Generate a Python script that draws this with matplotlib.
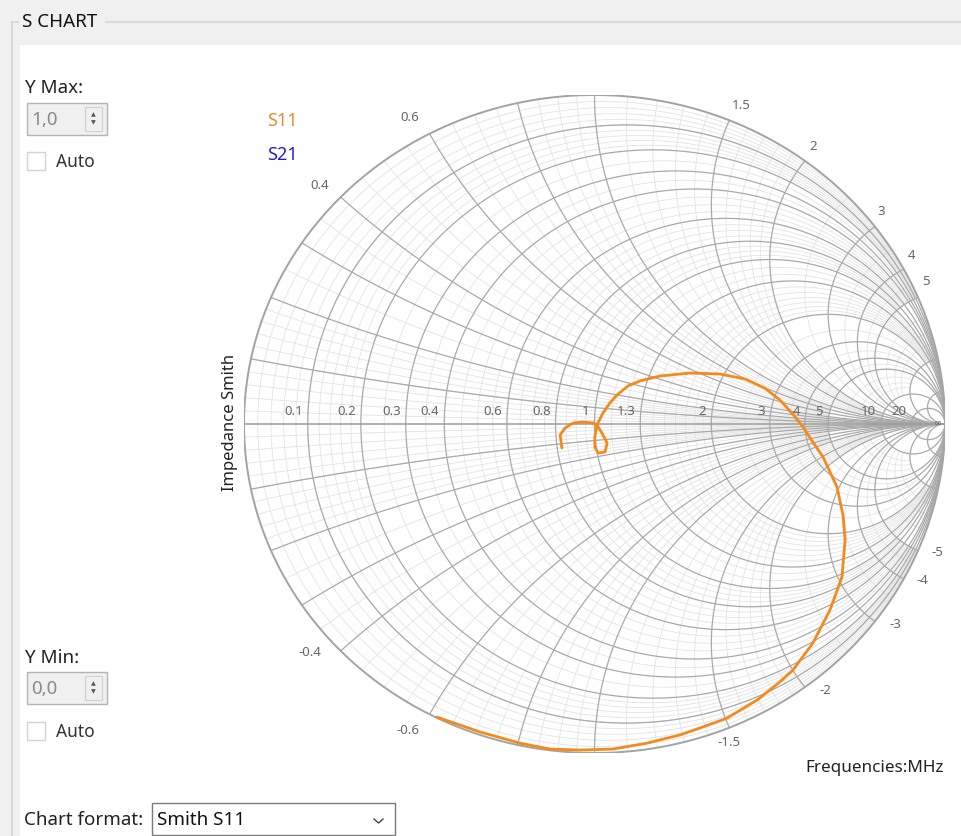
import matplotlib
matplotlib.use("Agg")
import matplotlib.pyplot as plt
import matplotlib.patches as mpatches
from matplotlib.lines import Line2D
import numpy as np

plt.rcParams['font.family'] = ['Noto Sans', 'DejaVu Sans']

W, H = 961, 836

# S11 reflection coefficient trace (real, imag)
s11_re = [-0.093, -0.098, -0.084, -0.061, -0.033, -0.004, 0.007, 0.021, 0.036, 0.030,
          0.010, 0.001, 0.001, 0.007, 0.024, 0.044, 0.064, 0.096, 0.130, 0.187,
          0.273, 0.358, 0.429, 0.486, 0.529, 0.566, 0.595, 0.623, 0.652, 0.692,
          0.709, 0.715, 0.706, 0.672, 0.623, 0.566, 0.529, 0.464, 0.378, 0.301,
          0.244, 0.150, 0.053, -0.041, -0.127, -0.213, -0.327, -0.449]
s11_im = [-0.073, -0.033, -0.012, 0.003, 0.006, 0.003, -0.003, -0.027, -0.058, -0.085,
          -0.088, -0.070, -0.040, -0.003, 0.033, 0.064, 0.088, 0.116, 0.131, 0.146,
          0.155, 0.152, 0.137, 0.109, 0.073, 0.030, -0.009, -0.055, -0.100, -0.192,
          -0.277, -0.353, -0.465, -0.565, -0.666, -0.748, -0.784, -0.839, -0.894, -0.924,
          -0.945, -0.970, -0.988, -0.991, -0.988, -0.970, -0.936, -0.891]

# grid values
major_r = [0.1, 0.2, 0.3, 0.4, 0.6, 0.8, 1, 1.3, 2, 3, 4, 5, 10, 20]
major_x = [0.1, 0.2, 0.3, 0.4, 0.6, 0.8, 1, 1.5, 2, 3, 4, 5, 10, 20]
r_labels = ['0.1', '0.2', '0.3', '0.4', '0.6', '0.8', '1', '1.3', '2', '3', '4', '5', '10', '20']
x_label_vals = [0.4, 0.6, 1.5, 2, 3, 4, 5, -0.4, -0.6, -1.5, -2, -3, -4, -5]
x_labels = ['0.4', '0.6', '1.5', '2', '3', '4', '5', '-0.4', '-0.6', '-1.5', '-2', '-3', '-4', '-5']
# label offsets in pixels (dx, dy), dy upward
x_label_off = [(-21, 12), (-20, 16), (12, 15), (8, 14), (6, 15), (8, 14), (8, 16),
               (-31, -2), (-22, -16), (0, -15), (21, -3), (21, -3), (19, -2), (19, -2)]

minor_r = ([round(v, 2) for v in np.arange(0.02, 0.2, 0.02)] +
           [round(v, 2) for v in np.arange(0.25, 1.0, 0.05) if round(v, 2) not in (0.3, 0.4, 0.6, 0.8)] +
           [1.1, 1.2, 1.4, 1.5, 1.6, 1.7, 1.8, 1.9, 2.5, 3.5, 4.5, 6, 7, 8])
minor_x = ([round(v, 2) for v in np.arange(0.02, 0.2, 0.02)] +
           [round(v, 2) for v in np.arange(0.25, 1.0, 0.05) if round(v, 2) not in (0.3, 0.4, 0.6, 0.8)] +
           [1.1, 1.2, 1.3, 1.4, 1.6, 1.7, 1.8, 1.9, 2.5, 3.5, 4.5, 6, 7, 8])


def gamma(z):
    return (z - 1) / (z + 1)


def r_curve(r, xmax):
    x = np.sinh(np.linspace(-np.arcsinh(xmax), np.arcsinh(xmax), 900))
    g = gamma(r + 1j * x)
    return g.real, g.imag


def x_curve(x, rmax):
    r = np.sinh(np.linspace(0, np.arcsinh(rmax), 900))
    g = gamma(r + 1j * x)
    return g.real, g.imag


def fx(px):
    return px / W


def fy(py):
    return 1 - py / H


fig = plt.figure(figsize=(W / 100, H / 100), dpi=100, facecolor='#f0f0f0')

# panel background and group box
fig.patches.append(mpatches.Rectangle((fx(20), 0), 1, fy(45), transform=fig.transFigure,
                                      facecolor='white', edgecolor='none', zorder=-5))
fig.add_artist(Line2D([fx(12), fx(12)], [fy(22), 0], color='#d5d5d5', lw=1.2))
fig.add_artist(Line2D([fx(12), fx(18)], [fy(22), fy(22)], color='#d5d5d5', lw=1.2))
fig.add_artist(Line2D([fx(106), 1], [fy(22), fy(22)], color='#d5d5d5', lw=1.2))
fig.text(fx(22), fy(22), 'S CHART', fontsize=13.5, va='center', ha='left', color='#111111')

UI = 13.5


def spin_box(top, value):
    fig.patches.append(mpatches.Rectangle((fx(27), fy(top + 32)), fx(80), 32 / H,
                                          transform=fig.transFigure, facecolor='#f0f0f0',
                                          edgecolor='#b4b4b4', lw=1))
    fig.patches.append(mpatches.Rectangle((fx(85), fy(top + 28)), fx(17), 24 / H,
                                          transform=fig.transFigure, facecolor='#f0f0f0',
                                          edgecolor='#d0d0d0', lw=0.8))
    fig.text(fx(31), fy(top + 17), value, fontsize=UI, va='center', color='#8a8a8a')
    fig.text(fx(93), fy(top + 12), '\u25b2', fontsize=4.5, ha='center', va='center', color='#555555')
    fig.text(fx(93), fy(top + 20), '\u25bc', fontsize=4.5, ha='center', va='center', color='#555555')


def check_box(top):
    fig.patches.append(mpatches.Rectangle((fx(27), fy(top + 18)), fx(18), 18 / H,
                                          transform=fig.transFigure, facecolor='white',
                                          edgecolor='#d4d4d4', lw=1))
    fig.text(fx(56), fy(top + 10), 'Auto', fontsize=12.5, va='center', color='#333333')


fig.text(fx(25), fy(88), 'Y Max:', fontsize=UI, va='center', color='#222222')
spin_box(103, '1,0')
check_box(152)
fig.text(fx(25), fy(658), 'Y Min:', fontsize=UI, va='center', color='#222222')
spin_box(672, '0,0')
check_box(722)

fig.text(fx(24), fy(820), 'Chart format:', fontsize=UI, va='center', color='#222222')
fig.patches.append(mpatches.Rectangle((fx(152), fy(835)), fx(243), 32 / H,
                                      transform=fig.transFigure, facecolor='white',
                                      edgecolor='#7a7a7a', lw=1))
fig.text(fx(157), fy(820), 'Smith S11', fontsize=UI, va='center', color='#111111')
fig.add_artist(Line2D([fx(374), fx(378.5), fx(383)], [fy(819), fy(823), fy(819)],
                      color='#444444', lw=1))

fig.text(fx(805), fy(768), 'Frequencies:MHz', fontsize=12.3, va='center', ha='left', color='#222222')
fig.text(fx(267), fy(121), 'S11', fontsize=13, va='center', color='#e8892a')
fig.text(fx(267), fy(155), 'S21', fontsize=13, va='center', color='#2020c8')
fig.text(fx(230), fy(422), 'Impedance Smith', fontsize=12, rotation=90, ha='center', va='center',
         color='#222222')

# Smith chart axes
ax = fig.add_axes([fx(244), fy(753), fx(701), 658 / H])
ax.set_zorder(5)
ax.set_xlim(-1.0, 1.0)
ax.set_ylim(-1.0, 1.0)
ax.axis('off')

minor_kw = dict(color='#e3e3e3', lw=0.6, zorder=1)
major_kw = dict(color='#a9a9a9', lw=0.9, zorder=2)

for r in minor_r:
    lim = 5 if r < 1 else 10
    ax.plot(*r_curve(r, lim), **minor_kw)
for x in minor_x:
    lim = 5 if x < 1 else 10
    ax.plot(*x_curve(x, lim), **minor_kw)
    ax.plot(*x_curve(-x, lim), **minor_kw)

for r in major_r:
    ax.plot(*r_curve(r, 1e4), **major_kw)
for x in major_x:
    ax.plot(*x_curve(x, 1e4), **major_kw)
    ax.plot(*x_curve(-x, 1e4), **major_kw)

t = np.linspace(0, 2 * np.pi, 1000)
ax.plot(np.cos(t), np.sin(t), color='#a3a3a3', lw=1.4, zorder=3)
ax.plot([-1, 1], [0, 0], color='#9c9c9c', lw=1.1, zorder=3)

label_kw = dict(fontsize=9.5, color='#666666', textcoords='offset pixels', va='center')
for r, lab in zip(major_r, r_labels):
    g = gamma(r)
    ax.annotate(lab, (g, 0), xytext=(-5, 12), ha='right', **label_kw)
for xv, lab, (dx, dy) in zip(x_label_vals, x_labels, x_label_off):
    g = gamma(1j * xv)
    ax.annotate(lab, (g.real, g.imag), xytext=(dx, dy), ha='center', **label_kw)
ax.annotate('\u221e', (1, 0), xytext=(-7, 0), ha='center', fontsize=7, color='#666666',
            textcoords='offset pixels', va='center')

ax.plot(s11_re, s11_im, color='#f28a1c', lw=2, zorder=5, solid_capstyle='round')

fig.savefig('out.png', dpi=100, facecolor=fig.get_facecolor())
